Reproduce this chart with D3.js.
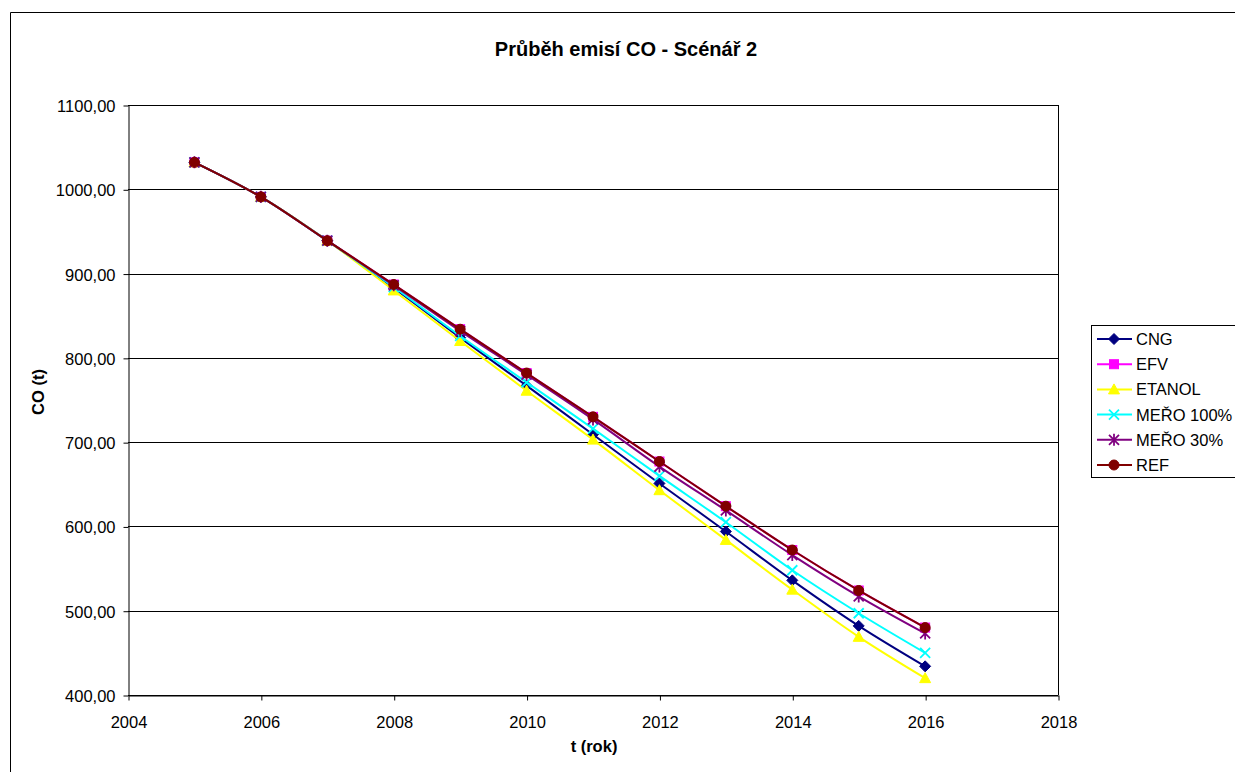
<!DOCTYPE html>
<html>
<head>
<meta charset="utf-8">
<script src="https://cdn.jsdelivr.net/npm/d3@7"></script>
<style>
  body { margin: 0; background: #fff; }
  svg { display: block; font-family: "Liberation Sans", Arial, sans-serif; }
</style>
</head>
<body>
<div id="container"></div>
<script>
var years = [2005, 2006, 2007, 2008, 2009, 2010, 2011, 2012, 2013, 2014, 2015, 2016]

var cng =     [1032, 991, 939, 883, 824, 767, 709, 651, 594, 536, 482, 434]
var efv =     [1032, 991, 939, 887, 834, 782, 730, 677, 624, 572, 524, 480]
var etanol =  [1032, 991, 939, 880, 820, 761, 703, 643, 584, 525, 469, 420]
var mero100 = [1032, 991, 939, 884, 826, 771, 716, 660, 605, 548, 497, 450]
var mero30 =  [1032, 991, 939, 886, 832, 780, 727, 671, 619, 566, 517, 473]
var ref =     [1032, 991, 939, 887, 834, 782, 730, 677, 624, 572, 524, 480]

var seriesNames = ['CNG', 'EFV', 'ETANOL', 'MEŘO 100%', 'MEŘO 30%', 'REF']
var seriesColors = ['#000080', '#ff00ff', '#ffff00', '#00ffff', '#800080', '#800000']
var seriesMarkers = ['diamond', 'square', 'triangle', 'x', 'star', 'circle']
var seriesValues = [cng, efv, etanol, mero100, mero30, ref]

var xTicks = [2004, 2006, 2008, 2010, 2012, 2014, 2016, 2018]
var yTicks = [400, 500, 600, 700, 800, 900, 1000, 1100]

var width = 1235, height = 772
var plot = { left: 128, right: 1058, top: 105, bottom: 695 }

var svg = d3.select('#container').append('svg')
  .attr('width', width).attr('height', height)

// outer chart border
svg.append('path')
  .attr('d', 'M10.5,' + height + 'V12.5H' + width)
  .attr('fill', 'none').attr('stroke', '#000').attr('stroke-width', 1)

var x = d3.scaleLinear().domain([2004, 2018]).range([plot.left, plot.right])
var y = d3.scaleLinear().domain([400, 1100]).range([plot.bottom, plot.top])

var loc = d3.formatLocale({ decimal: ',', thousands: '', grouping: [3], currency: ['', ''] })
var fmt = loc.format('.2f')

// grid
svg.append('g').selectAll('line').data(yTicks).enter().append('line')
  .attr('x1', plot.left).attr('x2', plot.right)
  .attr('y1', function (d) { return Math.round(y(d)) + 0.5 })
  .attr('y2', function (d) { return Math.round(y(d)) + 0.5 })
  .attr('stroke', '#000').attr('stroke-width', 1)

svg.append('line')
  .attr('x1', plot.right + 0.5).attr('x2', plot.right + 0.5)
  .attr('y1', plot.top).attr('y2', plot.bottom)
  .attr('stroke', '#000')

// axes
var yAxis = d3.axisLeft(y).tickValues(yTicks).tickFormat(fmt).tickSize(5).tickSizeOuter(0)
var gy = svg.append('g').attr('transform', 'translate(' + (plot.left + 0.5) + ',0.5)').call(yAxis)
var xAxis = d3.axisBottom(x).tickValues(xTicks).tickFormat(d3.format('d')).tickSize(5).tickSizeOuter(0)
var gx = svg.append('g').attr('transform', 'translate(0.5,' + (plot.bottom + 0.5) + ')').call(xAxis)

;[gx, gy].forEach(function (g) {
  g.selectAll('path, line').attr('stroke', '#000')
  g.selectAll('text').attr('font-size', 16.5).attr('fill', '#000')
    .attr('font-family', '"Liberation Sans", Arial, sans-serif')
})
gy.selectAll('text').attr('x', -13).attr('dy', '0.36em')
gx.selectAll('text').attr('y', 0).attr('dy', '32')

// titles
svg.append('text').attr('x', 626).attr('y', 56).attr('text-anchor', 'middle')
  .attr('font-size', 20).attr('font-weight', 'bold').text('Průběh emisí CO - Scénář 2')
svg.append('text').attr('x', 594).attr('y', 752).attr('text-anchor', 'middle')
  .attr('font-size', 16.5).attr('font-weight', 'bold').text('t (rok)')
svg.append('text').attr('transform', 'translate(44,392) rotate(-90)').attr('text-anchor', 'middle')
  .attr('font-size', 16.5).attr('font-weight', 'bold').text('CO (t)')

function drawMarker(g, type, color, cx, cy) {
  if (type === 'diamond') {
    g.append('path').attr('d', 'M' + cx + ',' + (cy - 5.5) + 'L' + (cx + 5.5) + ',' + cy + 'L' + cx + ',' + (cy + 5.5) + 'L' + (cx - 5.5) + ',' + cy + 'Z')
      .attr('fill', color).attr('stroke', color)
  } else if (type === 'square') {
    g.append('rect').attr('x', cx - 4.5).attr('y', cy - 4.5).attr('width', 9).attr('height', 9)
      .attr('fill', color).attr('stroke', color)
  } else if (type === 'triangle') {
    g.append('path').attr('d', 'M' + cx + ',' + (cy - 5.5) + 'L' + (cx + 5.5) + ',' + (cy + 4.5) + 'L' + (cx - 5.5) + ',' + (cy + 4.5) + 'Z')
      .attr('fill', color).attr('stroke', color)
  } else if (type === 'x') {
    g.append('path').attr('d', 'M' + (cx - 5) + ',' + (cy - 5) + 'L' + (cx + 5) + ',' + (cy + 5) + 'M' + (cx - 5) + ',' + (cy + 5) + 'L' + (cx + 5) + ',' + (cy - 5))
      .attr('stroke', color).attr('stroke-width', 1.8)
  } else if (type === 'star') {
    g.append('path').attr('d', 'M' + (cx - 5) + ',' + (cy - 5) + 'L' + (cx + 5) + ',' + (cy + 5) + 'M' + (cx - 5) + ',' + (cy + 5) + 'L' + (cx + 5) + ',' + (cy - 5) + 'M' + cx + ',' + (cy - 6) + 'L' + cx + ',' + (cy + 6))
      .attr('stroke', color).attr('stroke-width', 1.8)
  } else {
    g.append('circle').attr('cx', cx).attr('cy', cy).attr('r', 5)
      .attr('fill', color).attr('stroke', color)
  }
}

var line = d3.line()
  .x(function (d) { return x(d[0]) })
  .y(function (d) { return y(d[1]) })
  .curve(d3.curveCatmullRom.alpha(0.5))

seriesNames.forEach(function (name, i) {
  var pts = years.map(function (yr, j) { return [yr, seriesValues[i][j]] })
  var g = svg.append('g')
  g.append('path').attr('d', line(pts)).attr('fill', 'none')
    .attr('stroke', seriesColors[i]).attr('stroke-width', 2)
  pts.forEach(function (p) {
    drawMarker(g, seriesMarkers[i], seriesColors[i], x(p[0]), y(p[1]))
  })
})

// legend
var lg = svg.append('g')
lg.append('rect').attr('x', 1091.5).attr('y', 325.5).attr('width', 160).attr('height', 152)
  .attr('fill', '#fff').attr('stroke', '#000')
seriesNames.forEach(function (name, i) {
  var ly = 339 + i * 25.2
  lg.append('line').attr('x1', 1097).attr('x2', 1132).attr('y1', ly).attr('y2', ly)
    .attr('stroke', seriesColors[i]).attr('stroke-width', 2)
  drawMarker(lg, seriesMarkers[i], seriesColors[i], 1114, ly)
  lg.append('text').attr('x', 1136).attr('y', ly + 6).attr('font-size', 16.5).text(name)
})
</script>
</body>
</html>
